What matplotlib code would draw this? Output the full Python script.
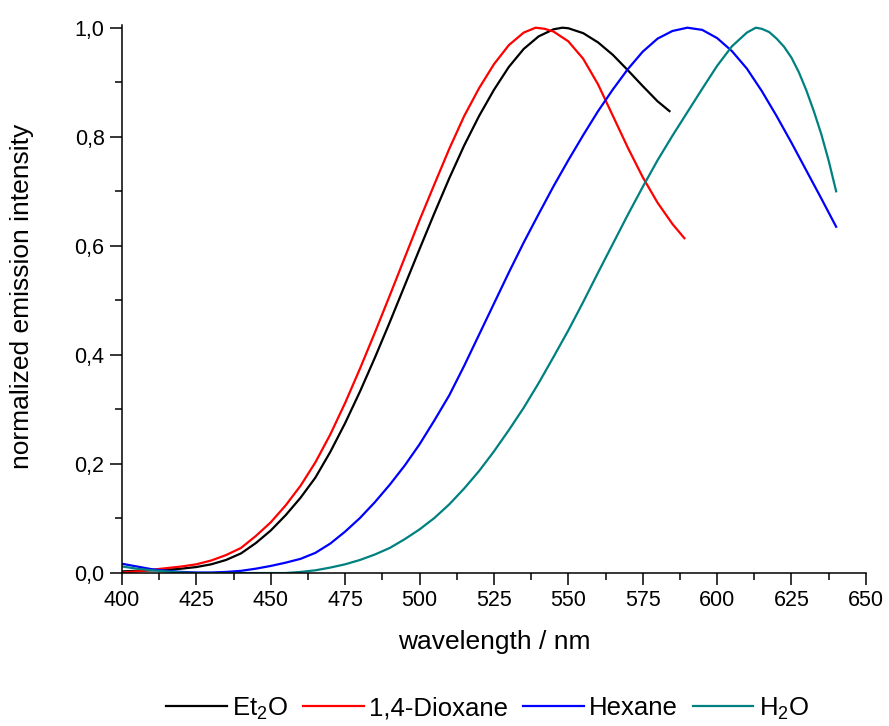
import numpy as np
import matplotlib
matplotlib.use("Agg")
import matplotlib.pyplot as plt
from matplotlib.ticker import MultipleLocator, FuncFormatter

plt.rcParams["font.family"] = ["Liberation Sans", "DejaVu Sans"]
plt.rcParams["mathtext.fontset"] = "custom"
plt.rcParams["mathtext.rm"] = "Liberation Sans"
plt.rcParams["mathtext.it"] = "Liberation Sans:italic"

# Et2O
wl_et2o = [400, 405, 410, 415, 420, 425, 430, 435, 440, 445, 450, 455, 460, 465, 470,
           475, 480, 485, 490, 495, 500, 505, 510, 515, 520, 525, 530, 535, 540, 545,
           548, 550, 555, 560, 565, 570, 575, 580, 584]
int_et2o = [0.003, 0.004, 0.005, 0.006, 0.008, 0.011, 0.016, 0.024, 0.036, 0.055, 0.078,
            0.106, 0.138, 0.175, 0.222, 0.275, 0.333, 0.395, 0.460, 0.527, 0.594, 0.660,
            0.724, 0.784, 0.838, 0.886, 0.928, 0.961, 0.984, 0.997, 1.000, 0.999, 0.990,
            0.973, 0.950, 0.922, 0.893, 0.865, 0.847]

# 1,4-Dioxane
wl_diox = [400, 405, 410, 415, 420, 425, 430, 435, 440, 445, 450, 455, 460, 465, 470,
           475, 480, 485, 490, 495, 500, 505, 510, 515, 520, 525, 530, 535, 539, 542,
           545, 550, 555, 560, 565, 570, 575, 580, 585, 589]
int_diox = [0.001, 0.003, 0.006, 0.009, 0.012, 0.016, 0.023, 0.033, 0.046, 0.068, 0.093,
            0.124, 0.160, 0.203, 0.254, 0.312, 0.375, 0.441, 0.509, 0.578, 0.647, 0.713,
            0.778, 0.838, 0.889, 0.933, 0.968, 0.991, 1.000, 0.998, 0.993, 0.975, 0.943,
            0.896, 0.838, 0.780, 0.726, 0.679, 0.640, 0.614]

# Hexane
wl_hex = [400, 405, 410, 415, 420, 425, 430, 435, 440, 445, 450, 455, 460, 465, 470,
          475, 480, 485, 490, 495, 500, 505, 510, 515, 520, 525, 530, 535, 540, 545,
          550, 555, 560, 565, 570, 575, 580, 585, 590, 595, 600, 605, 610, 615, 620,
          625, 630, 635, 640]
int_hex = [0.017, 0.012, 0.007, 0.004, 0.002, 0.001, 0.001, 0.002, 0.004, 0.008, 0.013,
           0.019, 0.026, 0.037, 0.054, 0.076, 0.101, 0.130, 0.162, 0.197, 0.236, 0.280,
           0.326, 0.380, 0.437, 0.494, 0.551, 0.606, 0.658, 0.709, 0.757, 0.803, 0.847,
           0.887, 0.924, 0.956, 0.980, 0.994, 1.000, 0.996, 0.981, 0.957, 0.925, 0.884,
           0.838, 0.789, 0.738, 0.687, 0.635]

# H2O
wl_h2o = [400, 405, 410, 415, 420, 425, 430, 435, 440, 445, 450, 455, 460, 465, 470,
          475, 480, 485, 490, 495, 500, 505, 510, 515, 520, 525, 530, 535, 540, 545,
          550, 555, 560, 565, 570, 575, 580, 585, 590, 595, 600, 605, 610, 613, 615,
          617.5, 620, 622.5, 625, 627.5, 630, 632.5, 635, 637.5, 640]
int_h2o = [0.012, 0.008, 0.005, 0.003, 0.001, 0.000, 0.000, 0.000, 0.000, 0.000, 0.000,
           0.000, 0.002, 0.005, 0.010, 0.016, 0.024, 0.034, 0.046, 0.062, 0.080, 0.101,
           0.126, 0.155, 0.187, 0.223, 0.262, 0.303, 0.348, 0.396, 0.445, 0.497, 0.551,
           0.604, 0.657, 0.708, 0.757, 0.802, 0.845, 0.888, 0.930, 0.966, 0.991, 1.000,
           0.998, 0.992, 0.980, 0.965, 0.945, 0.918, 0.885, 0.847, 0.805, 0.756, 0.700]

labels = ["Et$_2$O", "1,4-Dioxane", "Hexane", "H$_2$O"]
colors = ["#000000", "#ff0000", "#0000ff", "#008080"]
series = [(wl_et2o, int_et2o), (wl_diox, int_diox), (wl_hex, int_hex), (wl_h2o, int_h2o)]

fig = plt.figure(figsize=(8.89, 7.26), dpi=100)
ax = fig.add_axes([0.1372, 0.2107, 0.8368, 0.7549])

for (x, y), lab, c in zip(series, labels, colors):
    ax.plot(x, y, color=c, lw=1.6, label=lab)

ax.set_xlim(400, 650)
ax.set_ylim(0, 1.005)
ax.spines["top"].set_visible(False)
ax.spines["right"].set_visible(False)
ax.xaxis.set_major_locator(MultipleLocator(25))
ax.xaxis.set_minor_locator(MultipleLocator(12.5))
ax.yaxis.set_major_locator(MultipleLocator(0.2))
ax.yaxis.set_minor_locator(MultipleLocator(0.1))
ax.yaxis.set_major_formatter(FuncFormatter(lambda v, p: f"{v:.1f}".replace(".", ",")))
ax.tick_params(which="major", direction="out", length=8.5, width=1.1, labelsize=15.5, pad=4)
ax.tick_params(which="minor", direction="out", length=5, width=1.1)
for s in ("left", "bottom"):
    ax.spines[s].set_linewidth(1.1)

ax.set_xlabel("wavelength / nm", fontsize=19, va="top")
ax.xaxis.set_label_coords(0.5, -0.104)
ax.set_ylabel("normalized emission intensity", fontsize=19)
ax.yaxis.set_label_coords(-0.118, 0.505)

fig.legend(loc="center", bbox_to_anchor=(0.5485, 0.024), ncol=4, frameon=False,
           fontsize=18.5, handlelength=2.35, columnspacing=0.6, handletextpad=0.2)

fig.savefig("out.png", dpi=100)
